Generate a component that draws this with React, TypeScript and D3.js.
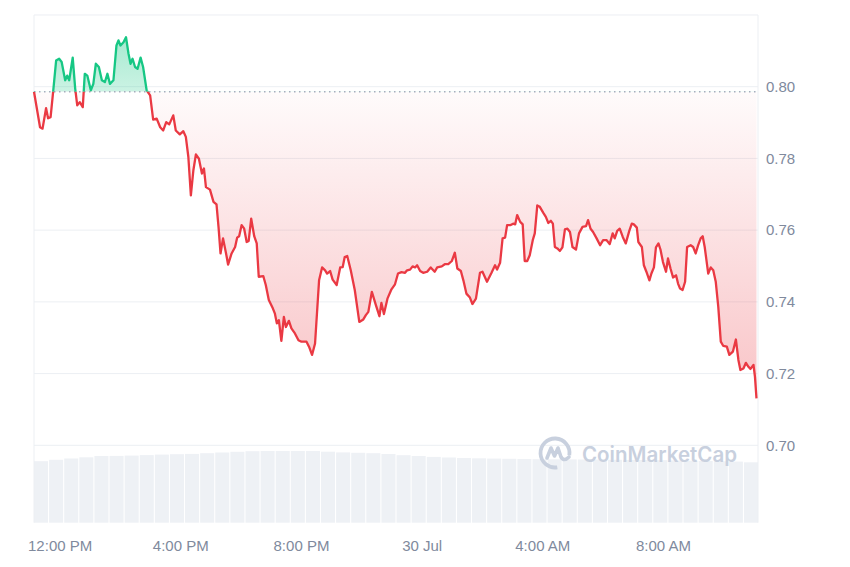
import React from "react";
import * as d3 from "d3";

// [minutes after 29 Jul 11:08, price in USD]
const priceSeries: [number, number][] = [
  [0, 0.7986], [12, 0.7887], [17, 0.7883], [24, 0.794], [28, 0.7912], [33, 0.7915], [38, 0.7985], [44, 0.8073], [50, 0.8078], [55, 0.8069],
  [62, 0.8018], [66, 0.8031], [70, 0.8018], [77, 0.8081], [82, 0.7994], [86, 0.7948], [91, 0.7957], [97, 0.7943], [101, 0.8036], [106, 0.8031],
  [113, 0.799], [118, 0.8008], [123, 0.8064], [129, 0.8055], [135, 0.8018], [141, 0.8013], [146, 0.8036], [151, 0.8008], [158, 0.8018], [164, 0.8115],
  [168, 0.8129], [172, 0.8115], [178, 0.8124], [183, 0.8138], [188, 0.8092], [192, 0.8064], [196, 0.8078], [201, 0.8055], [206, 0.805], [212, 0.8081],
  [217, 0.8055], [224, 0.799], [231, 0.7976], [237, 0.7908], [244, 0.7911], [251, 0.7887], [257, 0.7878], [263, 0.7901], [269, 0.7895], [277, 0.792],
  [282, 0.7878], [290, 0.7867], [297, 0.7876], [302, 0.786], [307, 0.7804], [312, 0.7697], [317, 0.7767], [322, 0.7811], [328, 0.7799], [334, 0.7758],
  [338, 0.7772], [342, 0.772], [350, 0.7713], [357, 0.7679], [363, 0.7672], [367, 0.7609], [371, 0.7535], [376, 0.7577], [382, 0.7535], [386, 0.7504],
  [393, 0.7535], [400, 0.7553], [404, 0.7579], [408, 0.7583], [413, 0.7614], [418, 0.7604], [423, 0.7567], [427, 0.757], [432, 0.7632], [438, 0.7583],
  [443, 0.7563], [447, 0.747], [456, 0.7472], [461, 0.7447], [467, 0.7405], [475, 0.7382], [479, 0.7368], [483, 0.734], [487, 0.7349], [492, 0.7291],
  [497, 0.7358], [501, 0.733], [507, 0.7347], [512, 0.7326], [519, 0.7312], [526, 0.7293], [532, 0.7289], [542, 0.7289], [547, 0.7275], [553, 0.7252],
  [559, 0.7284], [567, 0.746], [573, 0.7496], [579, 0.7488], [583, 0.7479], [589, 0.7486], [594, 0.7462], [602, 0.7447], [609, 0.7496], [614, 0.7497],
  [618, 0.7525], [623, 0.7528], [630, 0.7488], [638, 0.7433], [647, 0.7344], [655, 0.7351], [660, 0.7363], [665, 0.7372], [672, 0.7428], [680, 0.7391],
  [687, 0.736], [691, 0.7397], [696, 0.7366], [703, 0.7409], [711, 0.7435], [718, 0.7449], [724, 0.7479], [731, 0.7483], [738, 0.7481], [742, 0.7488],
  [748, 0.749], [753, 0.7499], [758, 0.7496], [762, 0.7502], [768, 0.7486], [774, 0.7481], [782, 0.7484], [789, 0.7496], [797, 0.7484], [802, 0.7496],
  [811, 0.7499], [817, 0.7505], [824, 0.7505], [831, 0.7514], [837, 0.7537], [842, 0.7493], [849, 0.7486], [854, 0.746], [860, 0.7423], [867, 0.7412],
  [872, 0.7394], [879, 0.7409], [887, 0.7481], [892, 0.7484], [901, 0.7456], [910, 0.7481], [917, 0.7502], [921, 0.749], [927, 0.7509], [932, 0.7577],
  [937, 0.7579], [941, 0.7614], [948, 0.7614], [953, 0.7618], [957, 0.7616], [961, 0.7642], [967, 0.7623], [972, 0.7616], [976, 0.7514], [981, 0.7514],
  [986, 0.753], [992, 0.7572], [996, 0.7591], [1001, 0.7669], [1006, 0.7665], [1013, 0.7648], [1018, 0.7637], [1023, 0.762], [1028, 0.7626], [1032, 0.7618],
  [1036, 0.7553], [1041, 0.7549], [1046, 0.7542], [1051, 0.7552], [1056, 0.7602], [1061, 0.7604], [1066, 0.7595], [1071, 0.7553], [1078, 0.7546], [1084, 0.7591],
  [1091, 0.7609], [1098, 0.7611], [1102, 0.7628], [1107, 0.7604], [1112, 0.7595], [1119, 0.7577], [1126, 0.7558], [1132, 0.7572], [1139, 0.7572], [1145, 0.7561],
  [1151, 0.7591], [1155, 0.7577], [1160, 0.7598], [1165, 0.7604], [1171, 0.7581], [1177, 0.7563], [1184, 0.7598], [1189, 0.7618], [1193, 0.7616], [1199, 0.7607],
  [1202, 0.7567], [1209, 0.7553], [1213, 0.7502], [1218, 0.7484], [1224, 0.746], [1228, 0.7479], [1233, 0.7496], [1237, 0.7552], [1242, 0.7563], [1246, 0.7546],
  [1251, 0.7511], [1257, 0.7484], [1261, 0.7521], [1266, 0.7493], [1271, 0.7468], [1277, 0.7474], [1281, 0.7451], [1285, 0.7437], [1290, 0.7433], [1295, 0.7456],
  [1299, 0.7553], [1306, 0.7558], [1311, 0.7553], [1316, 0.7535], [1321, 0.7558], [1326, 0.7577], [1330, 0.7583], [1334, 0.7553], [1341, 0.7479], [1346, 0.7496],
  [1351, 0.7488], [1356, 0.7456], [1361, 0.7386], [1366, 0.7289], [1371, 0.7277], [1378, 0.7275], [1383, 0.7252], [1390, 0.7261], [1396, 0.7295], [1401, 0.7238],
  [1405, 0.721], [1411, 0.7214], [1416, 0.723], [1421, 0.7219], [1425, 0.7213], [1431, 0.7224], [1434, 0.7191], [1437, 0.7131],
];

// 24h volume (millions), one value per 30 minutes
const volumes = [
  61.5, 62.9, 64.2, 65.4, 66.7, 66.8, 67.1, 67.6, 68.1, 68.5, 68.8, 69.5,
  70.2, 70.9, 71.5, 71.7, 71.7, 71.7, 71.7, 71.0, 70.3, 69.9, 69.5, 68.7,
  67.5, 66.7, 65.8, 65.2, 64.7, 64.4, 64.1, 63.9, 63.7, 63.5, 63.4, 63.3,
  63.2, 63.1, 62.9, 62.8, 62.7, 62.5, 62.3, 62.0, 61.7, 61.4, 61.1, 60.4,
];

const xTickTimes = [
  new Date(2024, 6, 29, 12, 0),
  new Date(2024, 6, 29, 16, 0),
  new Date(2024, 6, 29, 20, 0),
  new Date(2024, 6, 30, 0, 0),
  new Date(2024, 6, 30, 4, 0),
  new Date(2024, 6, 30, 8, 0),
];
const xTickLabels = ["12:00 PM", "4:00 PM", "8:00 PM", "30 Jul", "4:00 AM", "8:00 AM"];
const yTickValues = [0.7, 0.72, 0.74, 0.76, 0.78, 0.8];
const gridValues = [0.7, 0.72, 0.74, 0.76, 0.78, 0.8, 0.82];

const W = 850;
const H = 567;
const LEFT = 34;
const RIGHT = 758;
const RED = "#ea3943";
const GREEN = "#16c784";
const FONT = "'Liberation Sans', Arial, Helvetica, sans-serif";
const MARK = "#c8d0de";

export default function App() {
  const t0 = new Date(2024, 6, 29, 11, 8);
  const t1 = new Date(t0.getTime() + 24 * 3600 * 1000);
  const x = d3.scaleTime().domain([t0, t1]).range([LEFT, RIGHT]);
  const y = d3.scaleLinear().domain([0.7, 0.8]).range([445.3, 86.7]);
  const yVol = d3.scaleLinear().domain([0, 100]).range([522.7, 422.7]);
  const xVol = d3
    .scaleBand<number>()
    .domain(d3.range(volumes.length))
    .range([LEFT, RIGHT])
    .paddingInner(0.07);

  const pts = priceSeries.map(([m, p]) => ({ t: new Date(t0.getTime() + m * 60000), p }));
  const base = priceSeries[0][1];
  const yBase = y(base);
  const minP = d3.min(priceSeries, (d) => d[1]) as number;
  const maxP = d3.max(priceSeries, (d) => d[1]) as number;

  const line = d3
    .line<{ t: Date; p: number }>()
    .x((d) => x(d.t))
    .y((d) => y(d.p));
  const area = d3
    .area<{ t: Date; p: number }>()
    .x((d) => x(d.t))
    .y0(yBase)
    .y1((d) => y(d.p));

  const linePath = line(pts) || "";
  const areaPath = area(pts) || "";

  // logo geometry
  const lc = { x: 555, y: 453 };
  const ringArc = d3.arc()({
    innerRadius: 14.5,
    outerRadius: 14.5,
    startAngle: Math.PI * 0.95,
    endAngle: Math.PI * 2.55,
  } as any) as string;

  return (
    <svg
      width={W}
      height={H}
      style={{ position: "absolute", left: 0, top: 0, background: "#fff" }}
      fontFamily={FONT}
    >
      <defs>
        <clipPath id="above">
          <rect x={0} y={0} width={W} height={yBase} />
        </clipPath>
        <clipPath id="below">
          <rect x={0} y={yBase} width={W} height={H - yBase} />
        </clipPath>
        <linearGradient id="redGrad" gradientUnits="userSpaceOnUse" x1={0} x2={0} y1={yBase} y2={y(minP)}>
          <stop offset="0%" stopColor={RED} stopOpacity={0.02} />
          <stop offset="100%" stopColor={RED} stopOpacity={0.3} />
        </linearGradient>
        <linearGradient id="greenGrad" gradientUnits="userSpaceOnUse" x1={0} x2={0} y1={y(maxP)} y2={yBase}>
          <stop offset="0%" stopColor={GREEN} stopOpacity={0.38} />
          <stop offset="100%" stopColor={GREEN} stopOpacity={0.22} />
        </linearGradient>
      </defs>

      {/* volume bars */}
      <g>
        {volumes.map((v, i) => (
          <rect
            key={i}
            x={xVol(i)}
            y={yVol(v)}
            width={xVol.bandwidth()}
            height={yVol(0) - yVol(v)}
            fill="#eef1f5"
          />
        ))}
      </g>

      {/* grid */}
      <g>
        {gridValues.map((v) => (
          <line key={v} x1={LEFT} x2={RIGHT} y1={y(v)} y2={y(v)} stroke="#eceff3" strokeWidth={1} />
        ))}
        <line x1={LEFT} x2={LEFT} y1={y(0.82)} y2={522.7} stroke="#eceff3" strokeWidth={1} />
        <line x1={RIGHT} x2={RIGHT} y1={y(0.82)} y2={522.7} stroke="#eceff3" strokeWidth={1} />
      </g>

      {/* areas */}
      <path d={areaPath} fill="url(#greenGrad)" clipPath="url(#above)" />
      <path d={areaPath} fill="url(#redGrad)" clipPath="url(#below)" />

      {/* baseline */}
      <line
        x1={LEFT}
        x2={RIGHT}
        y1={yBase}
        y2={yBase}
        stroke="#a6adbd"
        strokeWidth={1.5}
        strokeDasharray="1.5 3.5"
      />

      {/* price line */}
      <path d={linePath} fill="none" stroke={GREEN} strokeWidth={2.3} strokeLinejoin="round" clipPath="url(#above)" />
      <path d={linePath} fill="none" stroke={RED} strokeWidth={2.3} strokeLinejoin="round" clipPath="url(#below)" />

      {/* watermark */}
      <g>
        <path d={ringArc} transform={`translate(${lc.x},${lc.y})`} fill="none" stroke={MARK} strokeWidth={3.8} strokeLinecap="round" />
        <path
          d={`M${lc.x - 8},${lc.y + 5} L${lc.x - 4},${lc.y - 5} L${lc.x - 0.5},${lc.y + 3} L${lc.x + 3},${lc.y - 5} L${lc.x + 6},${lc.y + 4} Q${lc.x + 9},${lc.y + 9} ${lc.x + 14},${lc.y + 4}`}
          fill="none"
          stroke={MARK}
          strokeWidth={3.6}
          strokeLinecap="round"
          strokeLinejoin="round"
        />
        <text
          x={582}
          y={461.5}
          fontSize={21}
          fontWeight={600}
          fontFamily="Inter, 'Liberation Sans', Arial, sans-serif"
          fill={MARK}
          textLength={155}
          lengthAdjust="spacingAndGlyphs"
        >
          CoinMarketCap
        </text>
      </g>

      {/* y labels */}
      <g>
        {yTickValues.map((v) => (
          <text key={v} x={766} y={y(v)} dy="0.35em" fontSize={15} fill="#808a9d">
            {d3.format(".2f")(v)}
          </text>
        ))}
      </g>

      {/* x labels */}
      <g>
        {xTickTimes.map((t, i) => (
          <text key={i} x={x(t)} y={550.5} textAnchor="middle" fontSize={15} fill="#808a9d">
            {xTickLabels[i]}
          </text>
        ))}
      </g>
    </svg>
  );
}
